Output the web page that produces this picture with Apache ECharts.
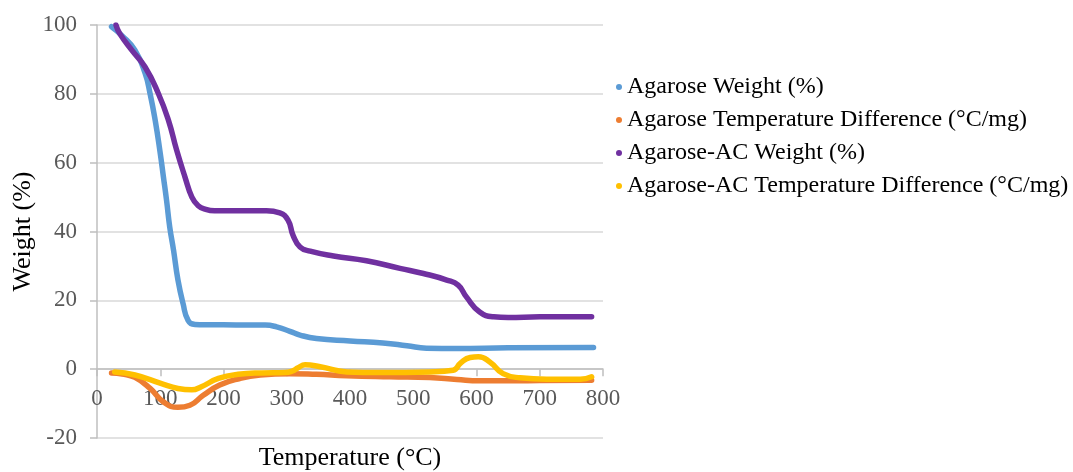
<!DOCTYPE html>
<html>
<head>
<meta charset="utf-8">
<script src="https://cdn.jsdelivr.net/npm/echarts@6/dist/echarts.min.js"></script>
<style>html,body{margin:0;padding:0;background:#fff;}#c{width:1073px;height:472px;}</style>
</head>
<body>
<div id="c"></div>
<script>
var seriesNames = ['Agarose Weight (%)', 'Agarose Temperature Difference (°C/mg)', 'Agarose-AC Weight (%)', 'Agarose-AC Temperature Difference (°C/mg)'];
var xTicks = [0, 100, 200, 300, 400, 500, 600, 700, 800];
var yTicks = [-20, 0, 20, 40, 60, 80, 100];

var agaroseWeightT = [23, 39, 60, 76, 84, 92, 100, 105, 110, 115, 121, 128, 136, 144, 155, 170, 200, 240, 266, 284, 305, 321, 347, 400, 452, 490, 521, 569, 650, 785];
var agaroseWeightV = [99.5, 97, 92.7, 86, 80, 72.3, 62.7, 55.9, 49, 41.3, 34.6, 25.9, 19.1, 14.2, 13, 12.9, 12.9, 12.8, 12.8, 12.3, 11, 9.9, 8.9, 8.2, 7.6, 6.8, 6.1, 6.0, 6.2, 6.3];

var agaroseTdT = [23, 40, 60, 84, 105, 128, 147, 168, 194, 226, 258, 305, 347, 395, 463, 526, 569, 605, 658, 700, 782];
var agaroseTdV = [-1.1, -1.4, -2.4, -5.6, -9.5, -11.1, -10.5, -7.6, -4.6, -2.7, -1.7, -1.3, -1.5, -1.9, -2.2, -2.4, -3, -3.4, -3.4, -3.3, -3.2];

var acWeightT = [30, 36, 55, 76, 97, 113, 126, 139, 150, 160, 172, 186, 230, 268, 289, 302, 310, 321, 337, 374, 426, 479, 516, 553, 571, 584, 605, 627, 650, 700, 782];
var acWeightV = [100, 97.5, 92.7, 87.8, 80.1, 72.3, 63.6, 55.9, 50, 47.5, 46.4, 46, 46, 46, 45.4, 43.3, 38.9, 35.5, 34.3, 32.9, 31.5, 29.3, 27.8, 25.9, 24.4, 21, 16.6, 15.2, 15, 15.2, 15.2];

var acTdT = [28, 60, 102, 128, 150, 165, 192, 223, 260, 297, 308, 318, 329, 353, 395, 447, 526, 563, 575, 590, 603, 621, 642, 669, 711, 764, 782];
var acTdV = [-0.8, -1.7, -4.2, -5.6, -6.0, -5.1, -2.7, -1.5, -1.1, -1.0, -0.6, 0.4, 1.3, 0.7, -0.8, -1.0, -0.8, -0.3, 1.8, 3.4, 3.6, 2.1, -1.3, -2.5, -2.9, -2.9, -2.2];

function pairs(t, v) { return t.map(function (x, i) { return [x, v[i]]; }); }

var colors = ['#5B9BD5', '#ED7D31', '#7030A0', '#FFC000'];
var dataSets = [pairs(agaroseWeightT, agaroseWeightV), pairs(agaroseTdT, agaroseTdV), pairs(acWeightT, acWeightV), pairs(acTdT, acTdV)];
var font = 'Liberation Serif';
var gridTop = 25, gridBottom = 34, chartH = 472;
var plotH = chartH - gridTop - gridBottom;
var yMin = yTicks[0], yMax = yTicks[yTicks.length - 1];
// shift the x axis up so it sits on the y = 0 line
var zeroOffset = -plotH * (0 - yMin) / (yMax - yMin);

var chart = echarts.init(document.getElementById('c'), null, {renderer: 'canvas'});
chart.setOption({
  animation: false,
  color: colors,
  grid: {left: 97, right: 470, top: gridTop, bottom: gridBottom, containLabel: false, outerBoundsMode: 'none'},
  legend: {
    orient: 'vertical', left: 611, top: 70, itemGap: 9,
    icon: 'circle', itemWidth: 6, itemHeight: 6,
    textStyle: {fontFamily: font, fontSize: 24, color: '#000', lineHeight: 24},
    data: seriesNames
  },
  xAxis: {
    type: 'value', min: xTicks[0], max: xTicks[xTicks.length - 1], interval: 100,
    position: 'bottom', offset: zeroOffset,
    name: 'Temperature (°C)', nameLocation: 'middle', nameGap: 76,
    nameTextStyle: {fontFamily: font, fontSize: 26, color: '#000'},
    axisLine: {onZero: false, lineStyle: {color: '#bfbfbf', width: 1.5}},
    axisTick: {show: true, length: 7, lineStyle: {color: '#bfbfbf', width: 1.5}},
    axisLabel: {fontFamily: font, fontSize: 23, color: '#595959', margin: 18},
    splitLine: {show: false}
  },
  yAxis: {
    type: 'value', min: yMin, max: yMax, interval: 20,
    name: 'Weight (%)', nameLocation: 'middle', nameGap: 61,
    nameTextStyle: {fontFamily: font, fontSize: 26, color: '#000'},
    axisLine: {show: true, lineStyle: {color: '#bfbfbf', width: 1.5}},
    axisTick: {show: true, length: 7, lineStyle: {color: '#bfbfbf', width: 1.5}},
    axisLabel: {fontFamily: font, fontSize: 23, color: '#595959', margin: 20},
    splitLine: {show: true, lineStyle: {color: '#d9d9d9', width: 1.5}}
  },
  series: seriesNames.map(function (n, i) {
    return {
      name: n, type: 'line', data: dataSets[i], smooth: 0.5,
      showSymbol: false, symbol: 'circle',
      lineStyle: {width: 5.5, color: colors[i], cap: 'round', join: 'round'},
      itemStyle: {color: colors[i]}
    };
  })
});
</script>
</body>
</html>
